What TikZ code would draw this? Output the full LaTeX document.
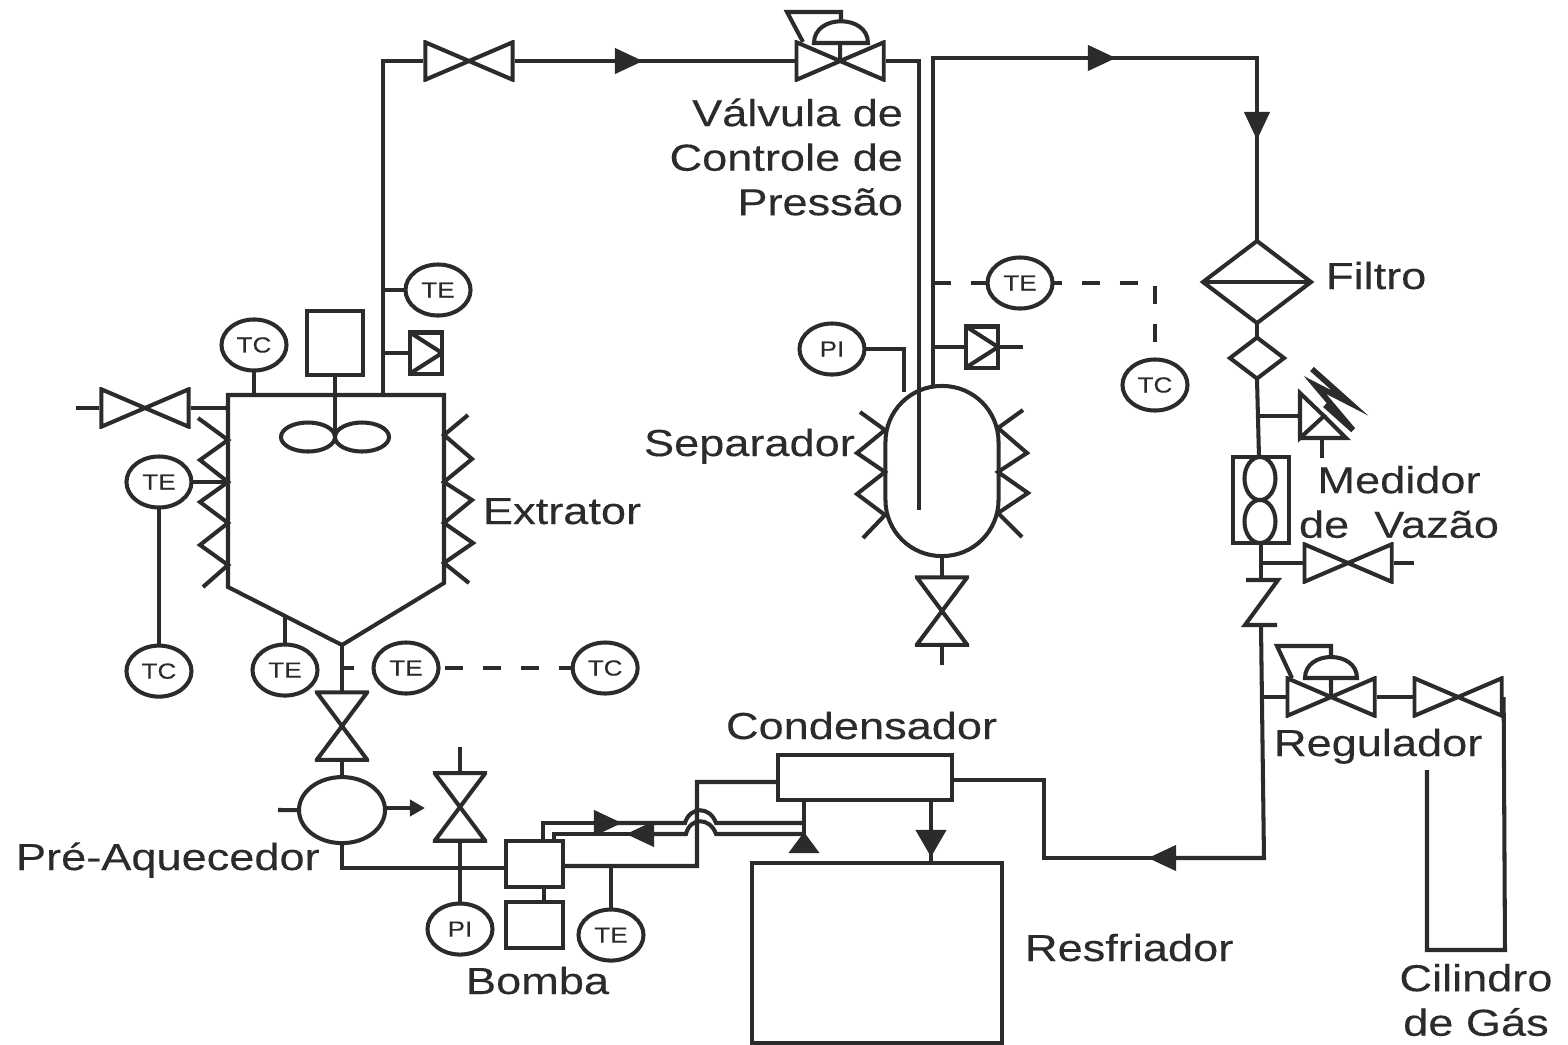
\documentclass[tikz,border=0pt]{standalone}
\usepackage{fontspec}
\setmainfont[FakeStretch=1.2,FakeBold=.25]{Liberation Sans}
\usetikzlibrary{positioning,shapes.geometric,arrows.meta}
\definecolor{ink}{gray}{0.17}
\begin{document}
\begin{tikzpicture}
[x=0.01cm,y=-0.01cm,color=ink,line width=1.15pt,on grid,
inst/.style={draw,ellipse,minimum width=.65cm,minimum height=.51cm,inner sep=0pt,outer sep=0pt,font=\fontsize{6.2}{7}\selectfont},
valveh/.style={minimum width=.91cm,minimum height=.41cm,inner sep=0pt,outer sep=0pt,path picture={\draw ([shift={(.5pt,.5pt)}]path picture bounding box.south west) -- ([shift={(-.5pt,-.5pt)}]path picture bounding box.north east) -- ([shift={(-.5pt,.5pt)}]path picture bounding box.south east) -- ([shift={(.5pt,-.5pt)}]path picture bounding box.north west) -- cycle; }},
valvev/.style={minimum width=.54cm,minimum height=.71cm,inner sep=0pt,outer sep=0pt,path picture={\draw ([shift={(.5pt,-.5pt)}]path picture bounding box.north west) -- ([shift={(-.5pt,-.5pt)}]path picture bounding box.north east) -- ([shift={(.5pt,.5pt)}]path picture bounding box.south west) -- ([shift={(-.5pt,.5pt)}]path picture bounding box.south east) -- cycle; }},
chkbox/.style={draw,minimum width=.32cm,minimum height=.41cm,inner sep=0pt,outer sep=0pt,path picture={\draw (path picture bounding box.north west) -- (path picture bounding box.east) -- (path picture bounding box.south west); }},
box/.style={draw,inner sep=0pt,outer sep=0pt},
oval/.style={draw,ellipse,inner sep=0pt,outer sep=0pt},
lbl/.style={font=\fontsize{10.7}{12.66}\selectfont,inner sep=0pt,outer sep=0pt,anchor=base west},
flow/.style={-{Triangle[length=.28cm,width=.25cm]}},
sig/.style={dash pattern=on .18cm off .2cm}]
\useasboundingbox (0,0) rectangle (1568,1044);

% extractor
\draw (228,395) -- (444,395) -- (444,583) -- (342,645) -- (228,587) -- cycle;
\draw (198,418) -- (228,440) -- (200,460) -- (228,482) -- (200,502) -- (228,523) -- (200,545) -- (228,565) -- (203,587);
\draw (468,415) -- (444,435) -- (472,459) -- (444,482) -- (472,500) -- (444,523) -- (473,543) -- (444,563) -- (469,583);
\coordinate (tctap) at (254,395);
\coordinate (tkout) at (383,395);
\coordinate (tetap) at (383,290);
\coordinate (chktap) at (383,353);
\coordinate (hub) at (335,437);
\coordinate (jackl) at (228,482);
\coordinate (cone) at (285,617);
\coordinate (apex) at (342,645);
\coordinate (aptap) at (342,668);
\node[inst,above =.5cm of tctap,anchor=center](tca){TC};
\node[inst,right =.55cm of tetap,anchor=center](tea){TE};
\node[chkbox,right =.43cm of chktap,anchor=center](chka){};
\node[box,minimum width=.56cm,minimum height=.64cm](motor) at (335,343){};
\node[oval,minimum width=.54cm,minimum height=.29cm,left =.27cm of hub,anchor=center](impa){};
\node[oval,minimum width=.54cm,minimum height=.29cm,right =.27cm of hub,anchor=center](impb){};
\node[inst,left =.69cm of jackl,anchor=center](teb){TE};
\node[inst,below =1.89cm of teb](tcb){TC};
\node[inst,below =.53cm of cone,anchor=center](tec){TE};
\node[inst,right =.64cm of aptap,anchor=center](ted){TE};
\node[inst,right =1.99cm of ted](tcd){TC};
\node[valveh](vin) at (145,408){};
\node[valvev,below =.81cm of apex,anchor=center](vout){};
\node[oval,minimum width=.86cm,minimum height=.66cm,below =.84cm of vout](heat){};
\coordinate (vinfree) at (76,408);
\coordinate (vintap) at (228,408);
\path (tctap) edge (tca); \path (tetap) edge (tea); \path (chktap) edge (chka);
\path (motor) edge (hub); \path (jackl) edge (teb); \path (teb) edge (tcb);
\path (cone) edge (tec); \path (vinfree) edge (vin); \path (vin) edge (vintap);
\path (apex) edge (vout); \path (vout) edge (heat);
\draw[dash pattern=on .12cm off .3cm] (aptap) -- (ted);
\draw[sig,dash phase=.32cm] (ted) -- (tcd);

% line to the separator
\node[valveh](vtop) at (469,61){};
\node[valveh,right =3.71cm of vtop](vpc){};
\coordinate (ftop) at (643,61);
\draw (tkout) |- (vtop.west);
\draw[flow] (vtop) -- (ftop);
\draw ([xshift=-.08cm]ftop) -- (vpc);
\draw (vpc.center) -- (840,43);
\draw (814,43) .. controls (814,14) and (868,14) .. (868,43) -- cycle;
\draw (841,21) -- (841,12) -- (787,12) -- (803,42);

% separator
\node[draw,rounded corners=.56cm,minimum width=1.13cm,minimum height=1.70cm,inner sep=0pt,outer sep=0pt](sep) at (942,471){};
\draw (860,412) -- (885,430) -- (857,453) -- (885,472) -- (857,494) -- (885,515) -- (863,538);
\draw (1023,410) -- (998,428) -- (1027,453) -- (998,472) -- (1028,493) -- (998,513) -- (1022,537);
\coordinate (dipend) at (919,510);
\coordinate (sepout) at (933,386);
\coordinate (sepin) at (904,392);
\coordinate (tetop) at (933,283);
\coordinate (chkb) at (933,347);
\node[inst,right =.87cm of tetop,anchor=center](tes){TE};
\node[inst](tcs) at (1155,385){TC};
\node[inst](pis) at (832,349){PI};
\node[chkbox,right =.49cm of chkb,anchor=center](chks){};
\node[valvev,below =1.40cm of sep](vsep){};
\coordinate (chkfree) at (1023,347);
\coordinate (vsepfree) at (942,665);
\draw (vpc.east) -| (dipend);
\draw[sig] (tetop) -- (tes);
\draw[sig,dash phase=.09cm] (tes) -| (tcs);
\path (chkb) edge (chks); \path (chks) edge (chkfree);
\draw (pis) -| (sepin);
\path (sep) edge (vsep); \path (vsep) edge (vsepfree);

% gas line to the filter
\node[diamond,draw,aspect=1.32,minimum width=1.08cm,minimum height=.82cm,inner sep=0pt,outer sep=0pt](filtro) at (1257,282){};
\node[diamond,draw,aspect=1.32,minimum width=.54cm,minimum height=.41cm,inner sep=0pt,outer sep=0pt,below =.76cm of filtro](filtb){};
\node[box,minimum width=.56cm,minimum height=.86cm](meter) at (1261,500){};
\node[oval,minimum width=.31cm,minimum height=.43cm](ovala) at (1260,478.5){};
\node[oval,minimum width=.31cm,minimum height=.43cm](ovalb) at (1260,521.5){};
\coordinate (fa) at (1116,58);
\coordinate (fb) at (1257,140);
\draw[flow] (sepout) |- (fa);
\draw[flow] ([xshift=-.08cm]fa) -| (fb);
\draw ([yshift=.08cm]fb) -- (filtro.north);
\draw (filtro.west) -- (filtro.east);
\path (filtro) edge (filtb);
\draw (filtb.south) -- (1259,457);

% relief valve
\coordinate (rv) at (1324,416);
\coordinate (rvtap) at (1258,416);
\draw (1300,393) -- (rv) -- (1300,438) -- cycle;
\draw (1300,438) -- (1346,438) -- (rv);
\draw (rvtap) -- (1300,416);
\draw (1322,438) -- (1322,458);
\draw[line width=1.6pt] (1312,369) -- (1350,403) -- (1315,385) -- (1353,430) -- (1325,405);

% check valve and vent
\coordinate (cktop) at (1261,580);
\coordinate (ckbot) at (1261,625);
\coordinate (venttap) at (1261,563);
\node[valveh,right =.87cm of venttap,anchor=center](vvent){};
\coordinate (ventfree) at (1414,563);
\path (meter) edge (cktop);
\draw (1246,580) -- (1278,580) -- (1245,625) -- (1277,625);
\path (venttap) edge (vvent); \path (vvent) edge (ventfree);

% regulator and cylinder
\coordinate (regtap) at (1264,697);
\node[valveh,right =.67cm of regtap,anchor=center](vreg){};
\node[valveh,right =1.27cm of vreg](vcyl){};
\path (regtap) edge (vreg); \path (vreg) edge (vcyl);
\draw (vreg.center) -- (1331,678);
\draw (1305,678) .. controls (1305,650) and (1357,650) .. (1357,678) -- cycle;
\draw (1331,657) -- (1331,646) -- (1277,646) -- (1292,678);
\draw (1427,770) -- (1427,950) -- (1505,950) -- (vcyl.east);

% return to the condenser
\coordinate (fc) at (1148,858);
\draw[flow] (ckbot) -- (1264,858) -- (fc);
\node[box,minimum width=1.74cm,minimum height=.45cm](cond) at (865,777.5){};
\draw ([xshift=.08cm]fc) -- (1044,858) -- (1044,780) -- (cond.east |- 0,780);

% cooler
\node[box,minimum width=2.50cm,minimum height=1.80cm](resf) at (877,953){};
\coordinate (fd) at (931,857);
\draw[-{Triangle[length=.27cm,width=.30cm]}] (931,800) -- (fd);
\path ([yshift=.05cm]fd) edge (931,863);
\coordinate (fe) at (804,832);
\draw (804,800) -- ([yshift=-.05cm]fe);
\draw[-{Triangle[length=.21cm,width=.30cm]}] (804,853) -- (fe);

% pump and valve
\node[box,minimum width=.57cm,minimum height=.46cm](bomba) at (534.5,864){};
\node[box,minimum width=.57cm,minimum height=.46cm,below =.61cm of bomba](bmot){};
\path ([xshift=.095cm]bomba.south) edge ([xshift=.095cm]bmot.north);
\coordinate (pitap) at (460,868);
\coordinate (tptap) at (611,866);
\node[valvev,above =.61cm of pitap,anchor=center](vpi){};
\node[inst,below =.61cm of pitap,anchor=center](pib){PI};
\node[inst,below =.69cm of tptap,anchor=center](tep){TE};
\coordinate (vpifree) at (460,747);
\coordinate (heatfree) at (278,810);
\coordinate (heatout) at (425,808);
\path (vpifree) edge (vpi); \path (vpi) edge (pib); \path (tptap) edge (tep);
\path (heatfree) edge (heat);
\draw[-{Triangle[length=.15cm,width=.16cm]}] (heat.east |- heatout) -- (heatout);
\draw (heat.south) |- ([yshift=-.04cm]bomba.west);
\draw ([yshift=-.02cm]bomba.east) -- (697,866) -- (697,782) -- ([yshift=-.045cm]cond.west);
\draw[flow] (543,841) -- (543,823) -- (622,823);
\draw (614,823) -- (685,823) .. controls (690,806) and (710,806) .. (716,823) -- (804,823);
\draw (804,834) -- (716,834) .. controls (710,817) and (690,817) .. (686,834) -- (653,834);
\draw[flow] (653,834) -- (626,834);
\draw (634,834) -- (554,834) -- (554,841);

% names
\node[lbl,anchor=east,align=right](lval) at (903,157){Válvula de\\Controle de\\Pressão};
\node[lbl](lfil) at (1326,289){Filtro};
\node[lbl](lext) at (483,524){Extrator};
\node[lbl](lsep) at (644,456){Separador};
\node[lbl,anchor=center,align=center](lmed) at (1399,502){Medidor\\de\ \ Vazão};
\node[lbl](lreg) at (1274,756){Regulador};
\node[lbl](lcon) at (726,739){Condensador};
\node[lbl](lpre) at (16,870){Pré-Aquecedor};
\node[lbl](lbom) at (466,994){Bomba};
\node[lbl](lres) at (1025,961){Resfriador};
\node[lbl,anchor=center,align=center](lcil) at (1476,1000){Cilindro\\de Gás};
\end{tikzpicture}
\end{document}
